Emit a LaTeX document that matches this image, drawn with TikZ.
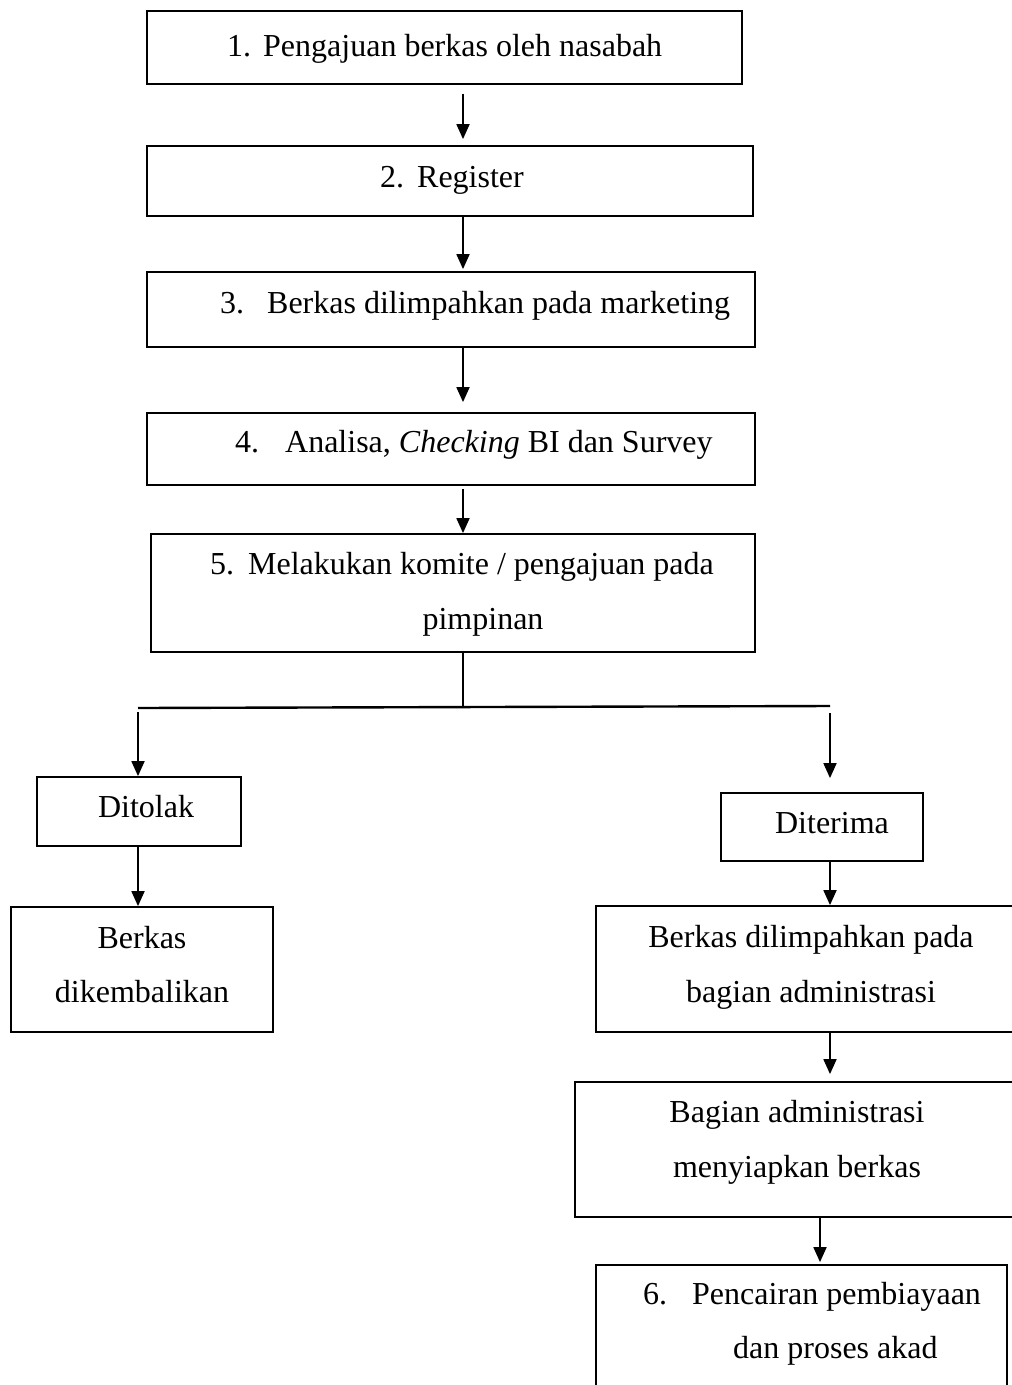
\documentclass[tikz,border=0pt]{standalone}
\usepackage{fontspec}
\setmainfont{Liberation Serif}
\usetikzlibrary{arrows.meta,fit}
\newcommand\myfs{\fontsize{32}{55}\selectfont}
\begin{document}
\begin{tikzpicture}[x=1pt,y=-1pt,
  box/.style={draw, line width=1.8pt, inner sep=0pt},
  txt/.style={font=\myfs, inner sep=0pt, anchor=base west},
  ctxt/.style={font=\myfs, inner sep=0pt, anchor=base},
  arr/.style={line width=1.8pt, -{Triangle[length=15pt,width=13pt]}},
  plain/.style={line width=1.2pt}]
\useasboundingbox (0,0) rectangle (1012,1385);
\fill[white] (0,0) rectangle (1012,1385);
% boxes
\node[box, fit={(147,11) (742,84)}] (b1) {};
\node[box, fit={(147,146) (753,216)}] (b2) {};
\node[box, fit={(147,272) (755,347)}] (b3) {};
\node[box, fit={(147,413) (755,485)}] (b4) {};
\node[box, fit={(151,534) (755,652)}] (b5) {};
\node[box, fit={(37,777) (241,846)}] (tolak) {};
\node[box, fit={(11,907) (273,1032)}] (kembali) {};
\node[box, fit={(721,793) (923,861)}] (terima) {};
\node[box, fit={(596,906) (1030,1032)}] (adm1) {};
\node[box, fit={(575,1082) (1030,1217)}] (adm2) {};
\node[box, fit={(596,1265) (1007,1420)}] (b6) {};
% texts
\node[txt] (t1) at (227,56) {1.\hspace{12pt}Pengajuan berkas oleh nasabah};
\node[txt] (t2) at (380,187) {2.\hspace{13pt}Register};
\node[txt] (t3) at (220,313) {3.\hspace{23pt}Berkas dilimpahkan pada marketing};
\node[txt] (t4) at (235,452) {4.\hspace{26pt}Analisa, \textit{Checking} BI dan Survey};
\node[txt] (t5a) at (210,574) {5.\hspace{14pt}Melakukan komite / pengajuan pada};
\node[ctxt] (t5b) at (483,629) {pimpinan};
\node[ctxt] (tt) at (146,817) {Ditolak};
\node[ctxt] (tk1) at (142,948) {Berkas};
\node[ctxt] (tk2) at (142,1002) {dikembalikan};
\node[ctxt] (tr) at (832,833) {Diterima};
\node[ctxt] (ta1) at (811,947) {Berkas dilimpahkan pada};
\node[ctxt] (ta2) at (811,1002) {bagian administrasi};
\node[ctxt] (tb1) at (797,1122) {Bagian administrasi};
\node[ctxt] (tb2) at (797,1177) {menyiapkan berkas};
\node[txt] (t6a) at (643,1304) {6.\hspace{25pt}Pencairan pembiayaan};
\node[txt] (t6b) at (733,1358) {dan proses akad};
% connector columns
\coordinate (cx) at (463,0);
\coordinate (jL) at (138,708);
\coordinate (jR) at (830,706);
\coordinate (j) at (463,708);
\coordinate (ax) at (830,0);
\coordinate (bx) at (820,0);
% connectors
\draw[arr, shorten <=9pt, shorten >=6pt] (b1.south -| cx) -- (b2.north -| cx);
\draw[arr, shorten >=2pt] (b2.south -| cx) -- (b3.north -| cx);
\draw[arr, shorten >=10pt] (b3.south -| cx) -- (b4.north -| cx);
\draw[arr, shorten <=3pt] (b4.south -| cx) -- (b5.north -| cx);
\draw[plain] (b5.south -| cx) -- (j);
\draw[line width=2.4pt] (jL) -- (jR);
\draw[arr, shorten <=4pt] (jL) -- (tolak.north -| jL);
\draw[arr, shorten <=7pt, shorten >=14pt] (jR) -- (terima.north -| jR);
\draw[arr] (tolak.south -| jL) -- (kembali.north -| jL);
\draw[arr] (terima.south -| jR) -- (adm1.north -| jR);
\draw[arr, shorten >=7pt] (adm1.south -| ax) -- (adm2.north -| ax);
\draw[arr, shorten >=2pt] (adm2.south -| bx) -- (b6.north -| bx);
\end{tikzpicture}
\end{document}
